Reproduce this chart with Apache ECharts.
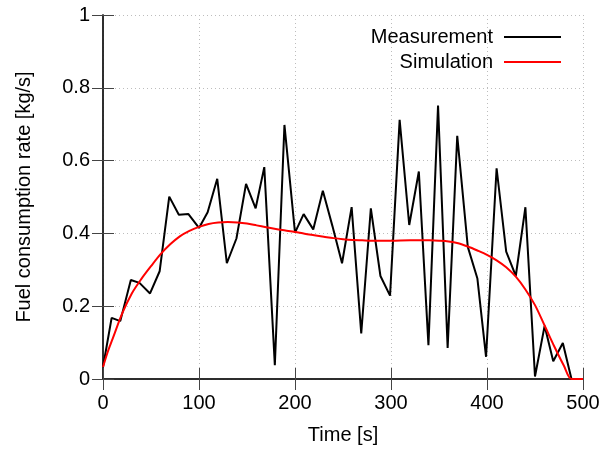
<!DOCTYPE html>
<html>
<head>
<meta charset="utf-8">
<script src="https://cdn.jsdelivr.net/npm/echarts@6/dist/echarts.min.js"></script>
<style>
  html, body { margin: 0; padding: 0; background: #fff; }
  #container { width: 603px; height: 454px; }
</style>
</head>
<body>
<div id="container"></div>
<script>
var measTime = [0, 9, 18, 29, 38, 49, 59, 69, 79, 89, 100, 109, 119, 129, 139, 149, 159, 168,
    179, 189, 200, 209, 219, 229, 239, 249, 259, 269, 279, 289, 299, 309, 319, 329, 339,
    349, 359, 369, 380, 390, 399, 410, 420, 430, 440, 450, 460, 469, 479, 488, 500];
var measRate = [0.033, 0.168, 0.159, 0.272, 0.264, 0.235, 0.296, 0.501, 0.451, 0.453, 0.415, 0.458,
    0.55, 0.318, 0.386, 0.536, 0.469, 0.582, 0.038, 0.698, 0.402, 0.453, 0.411, 0.517,
    0.42, 0.318, 0.472, 0.125, 0.469, 0.283, 0.229, 0.712, 0.423, 0.57, 0.093, 0.751,
    0.085, 0.668, 0.363, 0.276, 0.061, 0.579, 0.35, 0.283, 0.472, 0.007, 0.146, 0.049,
    0.099, 0, 0];

// simulated fuel consumption
var simTime = [0, 5, 10, 20, 30, 40, 50, 60, 70, 80, 90, 100, 110, 120, 130, 140, 150, 160, 170,
    180, 190, 200, 210, 220, 230, 240, 250, 260, 270, 280, 300, 320, 340, 350, 360, 370,
    380, 390, 400, 410, 420, 430, 440, 450, 460, 470, 480, 488, 500];
var simRate = [0.033, 0.075, 0.11, 0.18, 0.235, 0.275, 0.31, 0.343, 0.37, 0.392, 0.407, 0.418,
    0.426, 0.43, 0.431, 0.43, 0.427, 0.422, 0.417, 0.412, 0.408, 0.404, 0.399, 0.395,
    0.391, 0.387, 0.384, 0.382, 0.381, 0.380, 0.380, 0.381, 0.381, 0.380, 0.378, 0.373,
    0.364, 0.353, 0.341, 0.326, 0.307, 0.281, 0.246, 0.203, 0.147, 0.09, 0.037, 0, 0];

function zip(xs, ys) {
    return xs.map(function (x, i) { return [x, ys[i]]; });
}

var font = 'Liberation Sans, Arial, sans-serif';
var myChart = echarts.init(document.getElementById('container'));

var frame = { color: '#222', width: 1.5 };
var ticks = { show: true, inside: true, length: 11, lineStyle: { color: '#444' } };
var grid = { show: true, lineStyle: { color: '#bdbdbd', type: [1, 3] } };
var label = { fontFamily: font, fontSize: 20, color: '#000' };

var option = {
    animation: false,
    grid: { left: 103, right: 20, top: 15, bottom: 75 },
    legend: {
        orient: 'vertical',
        right: 42,
        top: 27,
        padding: 0,
        align: 'right',
        icon: 'rect',
        itemWidth: 57,
        itemHeight: 2,
        itemGap: 5,
        textStyle: { fontFamily: font, fontSize: 20, color: '#000', padding: [0, 6, 0, 0] },
        data: ['Measurement', 'Simulation']
    },
    xAxis: [{
        type: 'value',
        min: 0, max: 500, interval: 100,
        name: 'Time [s]',
        nameLocation: 'middle',
        nameGap: 46,
        nameTextStyle: label,
        axisLine: { lineStyle: frame },
        axisTick: ticks,
        axisLabel: Object.assign({ margin: 14 }, label),
        splitLine: grid
    }, {
        type: 'value',
        position: 'top',
        min: 0, max: 500, interval: 100,
        axisLine: { show: true, lineStyle: frame },
        axisTick: ticks,
        axisLabel: { show: false },
        splitLine: { show: false }
    }],
    yAxis: [{
        type: 'value',
        min: 0, max: 1, interval: 0.2,
        name: 'Fuel consumption rate [kg/s]',
        nameLocation: 'middle',
        nameGap: 69,
        nameTextStyle: label,
        axisLine: { show: true, lineStyle: frame },
        axisTick: ticks,
        axisLabel: Object.assign({ margin: 13 }, label),
        splitLine: grid
    }, {
        type: 'value',
        position: 'right',
        min: 0, max: 1, interval: 0.2,
        axisLine: { show: true, lineStyle: frame },
        axisTick: ticks,
        axisLabel: { show: false },
        splitLine: { show: false }
    }],
    series: [{
        name: 'Measurement',
        type: 'line',
        symbol: 'none',
        color: '#000',
        lineStyle: { color: '#000', width: 2 },
        data: zip(measTime, measRate),
        z: 3
    }, {
        name: 'Simulation',
        type: 'line',
        symbol: 'none',
        smooth: 0.3,
        color: '#ff0000',
        lineStyle: { color: '#ff0000', width: 2 },
        data: zip(simTime, simRate),
        z: 4
    }]
};

myChart.setOption(option);
</script>
</body>
</html>
